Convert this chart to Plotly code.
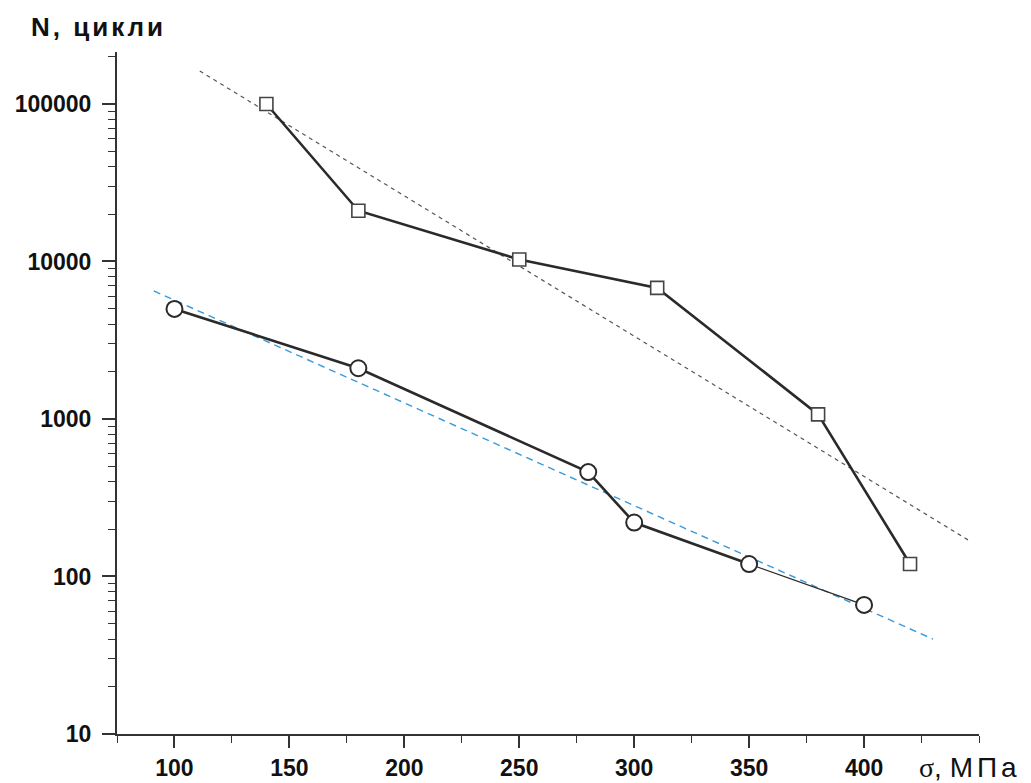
import plotly.graph_objects as go

# Data
sq_x = [140, 180, 250, 310, 380, 420]
sq_y = [100000, 21000, 10300, 6800, 1070, 120]

ci_x = [100, 180, 280, 300, 350, 400]
ci_y = [5000, 2100, 460, 220, 120, 66]

trend_sq_x = [111, 446]
trend_sq_y = [162000, 168]

trend_ci_x = [91, 430]
trend_ci_y = [6500, 40]

x_ticks = [100, 150, 200, 250, 300, 350, 400]
y_ticks = [10, 100, 1000, 10000, 100000]
y_ticktext = ["10", "100", "1000", "10000", "100000"]

dark = "#2a2a2a"

fig = go.Figure()

fig.add_trace(go.Scatter(x=trend_sq_x, y=trend_sq_y, mode="lines",
                         line=dict(color="#555555", width=1.2, dash="4px,4px"),
                         showlegend=False, hoverinfo="skip"))
fig.add_trace(go.Scatter(x=trend_ci_x, y=trend_ci_y, mode="lines",
                         line=dict(color="#3a9ad9", width=1.4, dash="7px,5px"),
                         showlegend=False, hoverinfo="skip"))

# circle series: thick segments, then thin last segment
fig.add_trace(go.Scatter(x=ci_x[:5], y=ci_y[:5], mode="lines",
                         line=dict(color=dark, width=2.6),
                         showlegend=False, hoverinfo="skip"))
fig.add_trace(go.Scatter(x=ci_x[4:], y=ci_y[4:], mode="lines",
                         line=dict(color=dark, width=1.2),
                         showlegend=False, hoverinfo="skip"))
fig.add_trace(go.Scatter(x=ci_x, y=ci_y, mode="markers",
                         marker=dict(symbol="circle", size=16, color="white",
                                     line=dict(color=dark, width=2)),
                         showlegend=False))

fig.add_trace(go.Scatter(x=sq_x, y=sq_y, mode="lines+markers",
                         line=dict(color=dark, width=2.6),
                         marker=dict(symbol="square", size=13, color="white",
                                     line=dict(color="#444444", width=1.6)),
                         showlegend=False))

font_family = "Liberation Sans, Arial, sans-serif"

fig.update_layout(
    width=1031, height=783,
    margin=dict(l=117, r=52, t=52, b=49),
    paper_bgcolor="white", plot_bgcolor="white",
    font=dict(family=font_family, color="#111111"),
    xaxis=dict(
        range=[75, 450],
        automargin=False,
        tickvals=x_ticks,
        ticks="outside", ticklen=12, tickwidth=1.5, tickcolor="#333333",
        ticklabelstandoff=0,
        tickfont=dict(size=23, weight="bold", family=font_family, color="#111111"),
        showline=True, linecolor="#333333", linewidth=2,
        showgrid=False, zeroline=False,
        minor=dict(dtick=25, tick0=75, ticks="outside", ticklen=7, tickwidth=1.2, tickcolor="#333333", showgrid=False),
    ),
    yaxis=dict(
        type="log",
        range=[1, 5.33],
        automargin=False,
        tickvals=y_ticks, ticktext=y_ticktext,
        ticks="outside", ticklen=13, tickwidth=1.5, tickcolor="#333333",
        ticklabelstandoff=6,
        tickfont=dict(size=23, weight="bold", family=font_family, color="#111111"),
        showline=True, linecolor="#333333", linewidth=2,
        showgrid=False, zeroline=False,
        minor=dict(dtick="D1", ticks="outside", ticklen=7, tickwidth=1.2, tickcolor="#333333", showgrid=False),
    ),
    annotations=[
        dict(text="<span style='letter-spacing:3px'><b>N, цикли</b></span>",
             xref="paper", yref="paper", x=(29 - 117) / 862, y=1.0,
             xanchor="left", yanchor="bottom", yshift=8, showarrow=False,
             font=dict(size=26, family=font_family, color="#111111")),
        dict(text="<span style='font-family:Liberation Serif, Times New Roman, serif'>σ</span>, <span style='letter-spacing:4px'>МПа</span>",
             xref="paper", yref="paper", x=(917 - 117) / 862, y=0, xanchor="left", yanchor="top",
             yshift=-16, showarrow=False,
             font=dict(size=28, family=font_family, color="#111111")),
    ],
)

fig.write_html("out.html")
